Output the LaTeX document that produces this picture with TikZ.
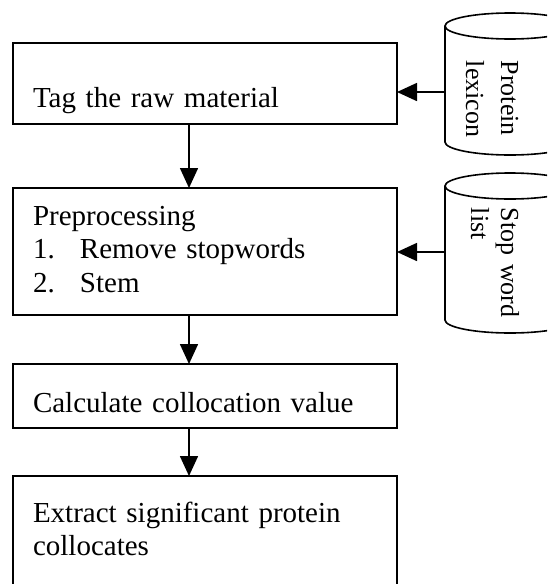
\documentclass[tikz,border=0pt]{standalone}
\usepackage{fontspec}
\setmainfont{Liberation Serif}
\usetikzlibrary{arrows.meta}

\begin{document}
\begin{tikzpicture}[x=1pt, y=-1pt, line width=1.6pt,
  stepbox/.style={draw, anchor=north west, inner xsep=20pt, inner ysep=0pt, outer sep=0pt, text width=344pt, align=left, font=\fontsize{29}{33.5}\selectfont},
  flow/.style={-{Triangle[length=20pt, width=18pt]}},
  dbtext/.style={rotate=-90, anchor=north west, inner sep=0pt, text width=140pt, align=left, text height=18pt}]
  \useasboundingbox (0,0) rectangle (547,584);
  \clip (0,0) rectangle (547,584);
  \node[stepbox, text height=64pt, text depth=17pt] (tag) at (13,43) {Tag the raw material};
  \node[stepbox, text height=37pt, text depth=90pt] (prep) at (13,188) {Preprocessing\\
    \makebox[47pt][l]{1.}Remove stopwords\\
    \makebox[47pt][l]{2.}Stem};
  \node[stepbox, text height=48pt, text depth=16pt] (calc) at (13,364) {Calculate collocation value};
  \node[stepbox, text height=46pt, text depth=80pt] (extract) at (13,476) {Extract significant protein\\collocates};
  \draw (510,26) ellipse [x radius=65, y radius=13];
  \draw (445,26) -- (445,142) arc [start angle=180, end angle=0, x radius=65, y radius=13] -- (575,26);
  \node[dbtext, font=\fontsize{26}{35}\selectfont] (lexicon) at (520,60) {Protein\\lexicon};
  \coordinate (lexport) at (445,92);
  \draw (510,186) ellipse [x radius=65, y radius=13];
  \draw (445,186) -- (445,320) arc [start angle=180, end angle=0, x radius=65, y radius=13] -- (575,186);
  \node[dbtext, font=\fontsize{26}{30}\selectfont] (stoplist) at (520,207) {Stop word\\list};
  \coordinate (stopport) at (445,252);
  \draw[flow] (lexport) -- (lexport -| tag.east);
  \draw[flow] (stopport) -- (stopport -| prep.east);
  \draw[flow] ([xshift=176pt]tag.south west) -- ([xshift=176pt]prep.north west);
  \draw[flow] ([xshift=176pt]prep.south west) -- ([xshift=176pt]calc.north west);
  \draw[flow] ([xshift=176pt]calc.south west) -- ([xshift=176pt]extract.north west);
\end{tikzpicture}
\end{document}
